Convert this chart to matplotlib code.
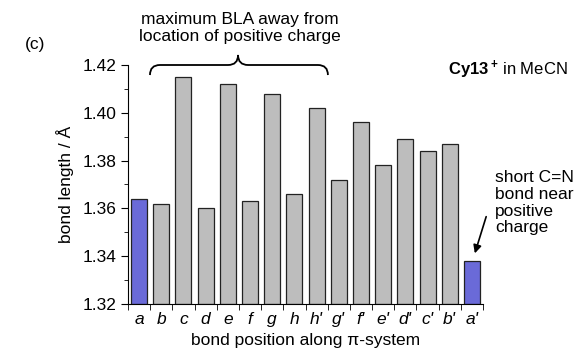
import matplotlib.pyplot as plt
import numpy as np
from matplotlib.path import Path
from matplotlib.patches import PathPatch
from matplotlib.ticker import MultipleLocator, FixedLocator

plt.rcParams['font.family'] = ['Liberation Sans', 'DejaVu Sans']
plt.rcParams['mathtext.fontset'] = 'custom'
plt.rcParams['mathtext.rm'] = 'Liberation Sans'
plt.rcParams['mathtext.bf'] = 'Liberation Sans:bold'

# bond positions along the pi-system and bond lengths (Angstrom)
bonds = ["a", "b", "c", "d", "e", "f", "g", "h",
         "h'", "g'", "f'", "e'", "d'", "c'", "b'", "a'"]
lengths = [1.364, 1.362, 1.415, 1.360, 1.412, 1.363, 1.408, 1.366,
           1.402, 1.372, 1.396, 1.378, 1.389, 1.384, 1.387, 1.338]
highlight = ["a", "a'"]

gray = "#bdbdbd"
blue = "#6a6ad8"
fs = 12.5

fig = plt.figure(figsize=(5.75, 3.51), dpi=100)
ax = fig.add_axes([128 / 575, 1 - 304 / 351, (483 - 128) / 575, (304 - 65) / 351])

x = np.arange(len(bonds))
colors = [blue if b in highlight else gray for b in bonds]
ax.bar(x, [v - 1.32 for v in lengths], bottom=1.32, width=0.72,
       color=colors, edgecolor="#222222", linewidth=0.9)

ax.set_xlim(-0.5, len(bonds) - 0.5)
ax.set_ylim(1.32, 1.42)
ax.spines['top'].set_visible(False)
ax.spines['right'].set_visible(False)

ax.set_xticks(x)
ax.set_xticklabels(bonds, fontstyle='italic', fontsize=fs)
ax.tick_params(axis='x', which='major', length=0, pad=6)
ax.xaxis.set_minor_locator(FixedLocator(np.arange(-0.5, len(bonds), 1.0)))
ax.tick_params(axis='x', which='minor', length=4, direction='out')

ax.yaxis.set_major_locator(MultipleLocator(0.02))
ax.yaxis.set_minor_locator(MultipleLocator(0.01))
ax.yaxis.set_major_formatter(plt.FormatStrFormatter('%.2f'))
ax.tick_params(axis='y', which='major', length=5, direction='out', labelsize=fs)
ax.tick_params(axis='y', which='minor', length=3, direction='out')

ax.set_xlabel("bond position along π-system", fontsize=fs, labelpad=4)
ax.set_ylabel("bond length / Å", fontsize=fs, labelpad=6)

# curly brace above bars c..h'
x0, xc, x1 = 0.49, 4.46, 8.51
y_end, y_flat, y_tip = 1.4158, 1.4200, 1.4242
r = 0.45
verts = [(x0, y_end), (x0, y_flat), (x0 + r, y_flat),
         (xc - r, y_flat), (xc, y_flat), (xc, y_tip),
         (xc, y_flat), (xc + r, y_flat),
         (x1 - r, y_flat), (x1, y_flat), (x1, y_end)]
codes = [Path.MOVETO, Path.CURVE3, Path.CURVE3,
         Path.LINETO, Path.CURVE3, Path.CURVE3,
         Path.CURVE3, Path.CURVE3,
         Path.LINETO, Path.CURVE3, Path.CURVE3]
ax.add_patch(PathPatch(Path(verts, codes), facecolor='none', edgecolor='black',
                       linewidth=1.3, clip_on=False))

fig.text(240 / 575, 1 - 28 / 351, "maximum BLA away from\nlocation of positive charge",
         ha='center', va='center', fontsize=fs, linespacing=1.1)
fig.text(25 / 575, 1 - 45 / 351, "(c)", ha='left', va='center', fontsize=fs)
fig.text(568 / 575, 1 - 70 / 351, r"$\mathbf{Cy13^+}\,$in MeCN",
         ha='right', va='center', fontsize=12)
fig.text(495 / 575, 1 - 170 / 351, "short C=N\nbond near\npositive\ncharge",
         ha='left', va='top', fontsize=fs, linespacing=1.15)

ax.annotate("", xy=(474, 351 - 256), xycoords='figure pixels',
            xytext=(487, 351 - 214), textcoords='figure pixels',
            arrowprops=dict(arrowstyle='-|>', color='black', lw=1.2,
                            mutation_scale=12))

plt.savefig("out.png", dpi=100)
